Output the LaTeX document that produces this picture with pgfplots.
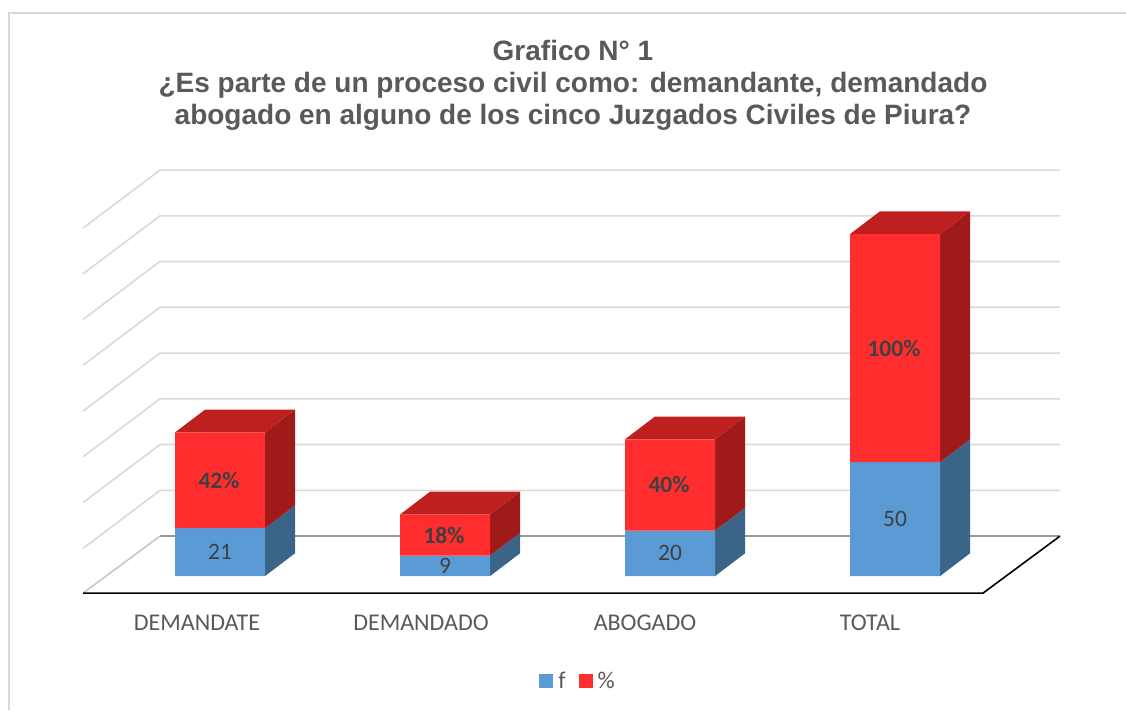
\documentclass[border=0pt]{standalone}
\usepackage{pgfplots}
\pgfplotsset{compat=1.18}
\usepackage{fontspec}
\setmainfont{Carlito}
\newfontfamily\titlefont{Liberation Sans}
\definecolor{fblue}{HTML}{5B9BD5}
\definecolor{fblueside}{HTML}{3A6488}
\definecolor{pred}{HTML}{FF2D2D}
\definecolor{predtop}{HTML}{BE2020}
\definecolor{predside}{HTML}{A01A1A}
\definecolor{gridgray}{HTML}{D9D9D9}
\definecolor{txtgray}{HTML}{595959}
\definecolor{lblgray}{HTML}{404040}
\pgfplotsset{
  face/.style={draw=none,fill=#1,mark=none,forget plot,stack plots=false},
  wall/.style={color=gridgray,line width=1.6pt,mark=none,forget plot,stack plots=false},
  stackbar/.style={ybar,bar width=90,bar shift=0pt,stack plots=y,draw=none,fill=#1,
    legend image code/.code={\fill[fill=#1,draw=none] (0pt,-7pt) rectangle (14pt,7pt);}},
  vals/.style={only marks,mark=none,forget plot,stack plots=false,
    nodes near coords,point meta=explicit symbolic,
    every node near coord/.append style={anchor=center,inner sep=0pt,text=lblgray,font=#1}},
}
\begin{document}
\begin{tikzpicture}
\begin{axis}[
  scale only axis,width=1126pt,height=710pt,
  xmin=0,xmax=1126,ymin=-58.77,ymax=252.63,
  axis line style={draw=none},
  major tick length=0pt,
  ymajorticks=false,
  xtick={197,421,645,870},
  xticklabels={DEMANDATE,DEMANDADO,ABOGADO,TOTAL},
  xticklabel style={yshift=98.5pt,text=txtgray,font=\fontsize{24}{28}\selectfont},
  legend style={at={(axis cs:578,-46.05)},anchor=center,draw=none,fill=none,
    legend columns=2,font=\fontsize{24}{28}\selectfont\color{txtgray},
    /tikz/every odd column/.append style={column sep=3pt},
    /tikz/every even column/.append style={column sep=11pt},inner sep=0pt},
]
% chart frame
\addplot[wall] coordinates {(9,-58.77) (9,246.9) (1126,246.9)};
% gridlines: side wall then back wall
\addplot[wall] coordinates {(83,12.16) (160,37.6) (1060,37.6)};
\addplot[wall] coordinates {(83,32.26) (160,57.7) (1060,57.7)};
\addplot[wall] coordinates {(83,52.31) (160,77.75) (1060,77.75)};
\addplot[wall] coordinates {(83,72.36) (160,97.8) (1060,97.8)};
\addplot[wall] coordinates {(83,92.46) (160,117.9) (1060,117.9)};
\addplot[wall] coordinates {(83,112.56) (160,138) (1060,138)};
\addplot[wall] coordinates {(83,132.56) (160,158) (1060,158)};
\addplot[wall] coordinates {(83,152.63) (160,178.07) (1060,178.07)};
% floor
\addplot[wall,color=gray!80] coordinates {(160,17.54) (1060,17.54)};
\addplot[wall,color=black!22] coordinates {(83,-7.46) (160,17.54)};
\addplot[color=black,line width=1.6pt,mark=none,forget plot,stack plots=false] coordinates {(83,-7.46) (983,-7.46) (1060,17.54)};
% side and top faces of the bars
\addplot[face=fblueside] coordinates {(265,0) (295,10) (295,31) (265,21) (265,0)};
\addplot[face=predside] coordinates {(265,21) (295,31) (295,73) (265,63) (265,21)};
\addplot[face=predtop] coordinates {(175,63) (205,73) (295,73) (265,63) (175,63)};
\addplot[face=fblueside] coordinates {(490,0) (520,10) (520,19) (490,9) (490,0)};
\addplot[face=predside] coordinates {(490,9) (520,19) (520,37) (490,27) (490,9)};
\addplot[face=predtop] coordinates {(400,27) (430,37) (520,37) (490,27) (400,27)};
\addplot[face=fblueside] coordinates {(715,0) (745,10) (745,30) (715,20) (715,0)};
\addplot[face=predside] coordinates {(715,20) (745,30) (745,70) (715,60) (715,20)};
\addplot[face=predtop] coordinates {(625,60) (655,70) (745,70) (715,60) (625,60)};
\addplot[face=fblueside] coordinates {(940,0) (970,10) (970,60) (940,50) (940,0)};
\addplot[face=predside] coordinates {(940,50) (970,60) (970,160) (940,150) (940,50)};
\addplot[face=predtop] coordinates {(850,150) (880,160) (970,160) (940,150) (850,150)};
% front faces
\addplot[stackbar=fblue] coordinates {(220,21) (445,9) (670,20) (895,50)};
\addlegendentry{f}
\addplot[stackbar=pred] coordinates {(220,42) (445,18) (670,40) (895,100)};
\addlegendentry{\%}
% value labels
\addplot[vals=\fontsize{23.5}{28}\selectfont] table[meta=l] {
x y l
220 10.5 21
445 4.5 9
670 10 20
895 25 50
};
\addplot[vals=\fontsize{23.5}{28}\selectfont\bfseries] table[meta=l] {
x y l
219 42 42\%
444 18 18\%
669 40 40\%
894 100 100\%
};
\node[align=center,text=txtgray,font=\titlefont\bfseries\fontsize{28}{32}\selectfont]
  at (axis cs:573,215.3) {Grafico N° 1\\¿Es parte de un proceso civil como: demandante, demandado\\abogado en alguno de los cinco Juzgados Civiles de Piura?};
\end{axis}
\end{tikzpicture}
\end{document}
